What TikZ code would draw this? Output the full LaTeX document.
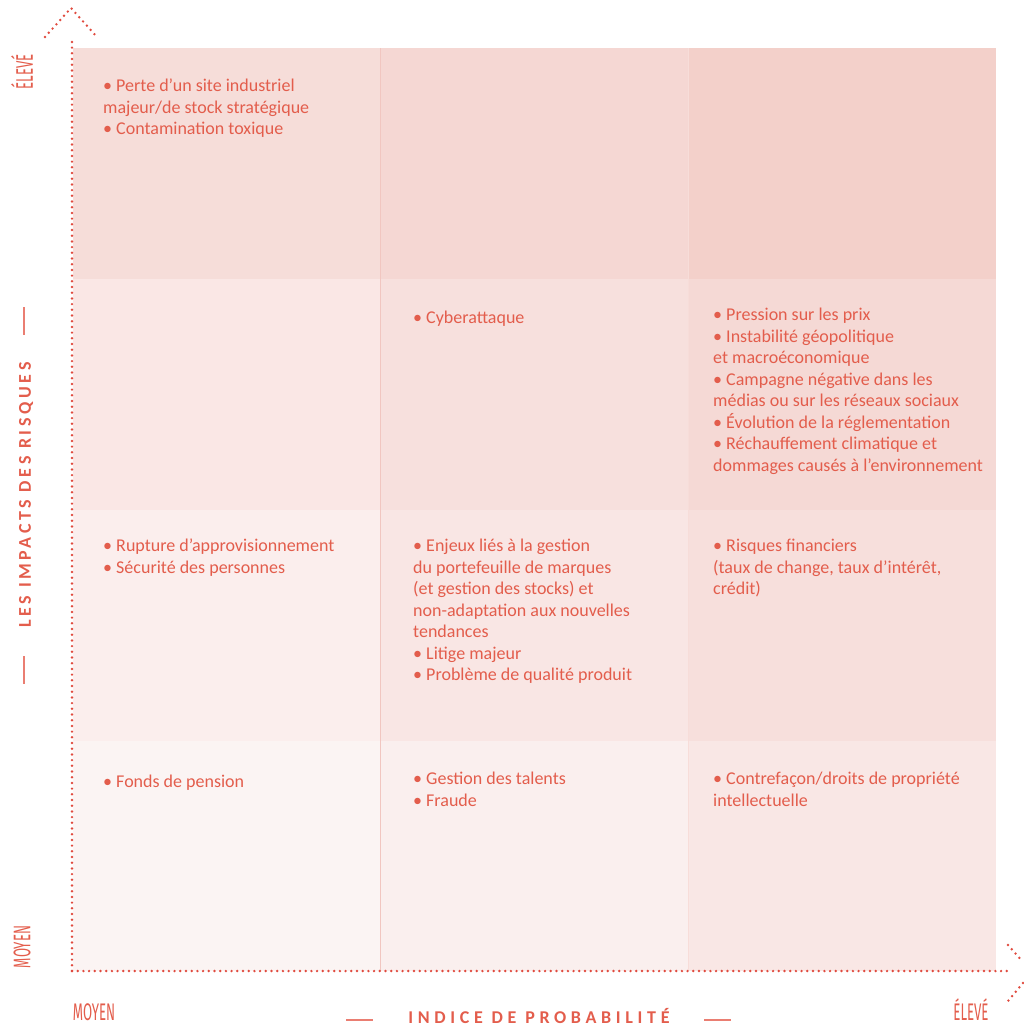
\documentclass[tikz,border=0pt]{standalone}
\usepackage{fontspec}
\setmainfont{Carlito}
\newfontfamily\axisfont{Fira Sans}
\newfontfamily\ytitlefont[LetterSpace=20]{Carlito}
\newfontfamily\xtitlefont[LetterSpace=26]{Carlito}
\definecolor{txt}{HTML}{E35D4C}
\definecolor{dotc}{HTML}{E04A3E}
\definecolor{dashc}{HTML}{EA7E72}
\definecolor{gridc}{HTML}{F1C6C0}
\definecolor{cA}{HTML}{F6DDD9}
\definecolor{cB}{HTML}{F5D7D3}
\definecolor{cC}{HTML}{F3D0CA}
\definecolor{cD}{HTML}{FAE7E5}
\definecolor{cE}{HTML}{F7E0DD}
\definecolor{cF}{HTML}{F5D9D5}
\definecolor{cG}{HTML}{FBEEED}
\definecolor{cH}{HTML}{F9E6E4}
\definecolor{cI}{HTML}{F7DFDC}
\definecolor{cJ}{HTML}{FBF4F3}
\definecolor{cK}{HTML}{FAEFEE}
\definecolor{cL}{HTML}{F9E7E5}
\begin{document}
\begin{tikzpicture}[x=1pt,y=-1pt,
  riskcell/.style={anchor=north west, inner sep=0pt, align=left, text=txt,
    font=\fontsize{18}{21.5}\selectfont, execute at begin node=\rule{0pt}{15pt}},
  dotline/.style={draw=dotc, line width=2.7pt, line cap=round, dash pattern=on 0pt off 5.7pt},
  levellabel/.style={inner sep=0pt, text=txt, font=\axisfont\fontsize{24}{24}\selectfont},
  tick/.style={draw=dashc, line width=1.3pt}]
\path[use as bounding box] (0,0) rectangle (1024,1026);

% matrix cells, rows from high impact (top) to medium impact (bottom)
\fill[cA] (73,48) rectangle (380,279);
\fill[cB] (380,48) rectangle (688,279);
\fill[cC] (688,48) rectangle (996,279);
\fill[cD] (73,279) rectangle (380,510);
\fill[cE] (380,279) rectangle (688,510);
\fill[cF] (688,279) rectangle (996,510);
\fill[cG] (73,510) rectangle (380,741);
\fill[cH] (380,510) rectangle (688,741);
\fill[cI] (688,510) rectangle (996,741);
\fill[cJ] (73,741) rectangle (380,971);
\fill[cK] (380,741) rectangle (688,971);
\fill[cL] (688,741) rectangle (996,971);
\draw[gridc, line width=0.8pt] (380,48) -- (380,971);
\draw[gridc!60, line width=0.6pt] (688,48) -- (688,971);

% risk entries (strut top = first baseline - 15)
\node[riskcell] (r11) at (103,79) {• Perte d’un site industriel\\majeur/de stock stratégique\\• Contamination toxique};
\node[riskcell] (r22) at (413,308) {• Cyberattaque};
\node[riskcell] (r23) at (713,308) {• Pression sur les prix\\• Instabilité géopolitique\\et macroéconomique\\• Campagne négative dans les\\médias ou sur les réseaux sociaux\\• Évolution de la réglementation\\• Réchauffement climatique et\\dommages causés à l’environnement};
\node[riskcell] (r31) at (103,539) {• Rupture d’approvisionnement\\• Sécurité des personnes};
\node[riskcell] (r32) at (413,539) {• Enjeux liés à la gestion\\du portefeuille de marques\\(et gestion des stocks) et\\non-adaptation aux nouvelles\\tendances\\• Litige majeur\\• Problème de qualité produit};
\node[riskcell] (r33) at (713,539) {• Risques financiers\\(taux de change, taux d’intérêt,\\crédit)};
\node[riskcell] (r41) at (103,772) {• Fonds de pension};
\node[riskcell] (r42) at (413,772) {• Gestion des talents\\• Fraude};
\node[riskcell] (r43) at (713,772) {• Contrefaçon/droits de propriété\\intellectuelle};

% axes
\coordinate (origin) at (72,971);
\coordinate (ytop) at (72,38);
\coordinate (xend) at (1008,971);
\coordinate (yl) at (45,37);
\coordinate (ytip) at (71,8);
\coordinate (yr) at (97,37);
\coordinate (xa) at (1008,945);
\coordinate (xb) at (1023,962);
\coordinate (xc) at (1023,983);
\coordinate (xd) at (1008,1001);
\path[dotline] (origin) -- (ytop);
\path[dotline] (origin) -- (xend);
\path[dotline] (yl) -- (ytip) -- (yr);
\path[dotline] (xa) -- (xb);
\path[dotline] (xc) -- (xd);

% axis level labels
\node[levellabel, rotate=90] (yhigh) at (22,72) {\scalebox{0.55}[1]{ÉLEVÉ}};
\node[levellabel, rotate=90] (ylow) at (22,947) {\scalebox{0.55}[1]{MOYEN}};
\node[levellabel, anchor=base] (xlow) at (94,1020) {\scalebox{0.55}[1]{MOYEN}};
\node[levellabel, anchor=base] (xhigh) at (971,1020) {\scalebox{0.55}[1]{ÉLEVÉ}};

% axis titles
\node[inner sep=0pt, text=txt, font=\ytitlefont\bfseries\fontsize{18}{18}\selectfont, rotate=90] (ytitle) at (26,495) {LES IMPACTS DES RISQUES};
\node[inner sep=0pt, text=txt, font=\xtitlefont\bfseries\fontsize{18}{18}\selectfont, anchor=base] (xtitle) at (539,1023) {INDICE DE PROBABILITÉ};
\draw[tick] (24,307) -- (24,335);
\draw[tick] (24,656) -- (24,684);
\draw[tick] (346,1020) -- (373,1020);
\draw[tick] (704,1020) -- (731,1020);
\end{tikzpicture}
\end{document}
